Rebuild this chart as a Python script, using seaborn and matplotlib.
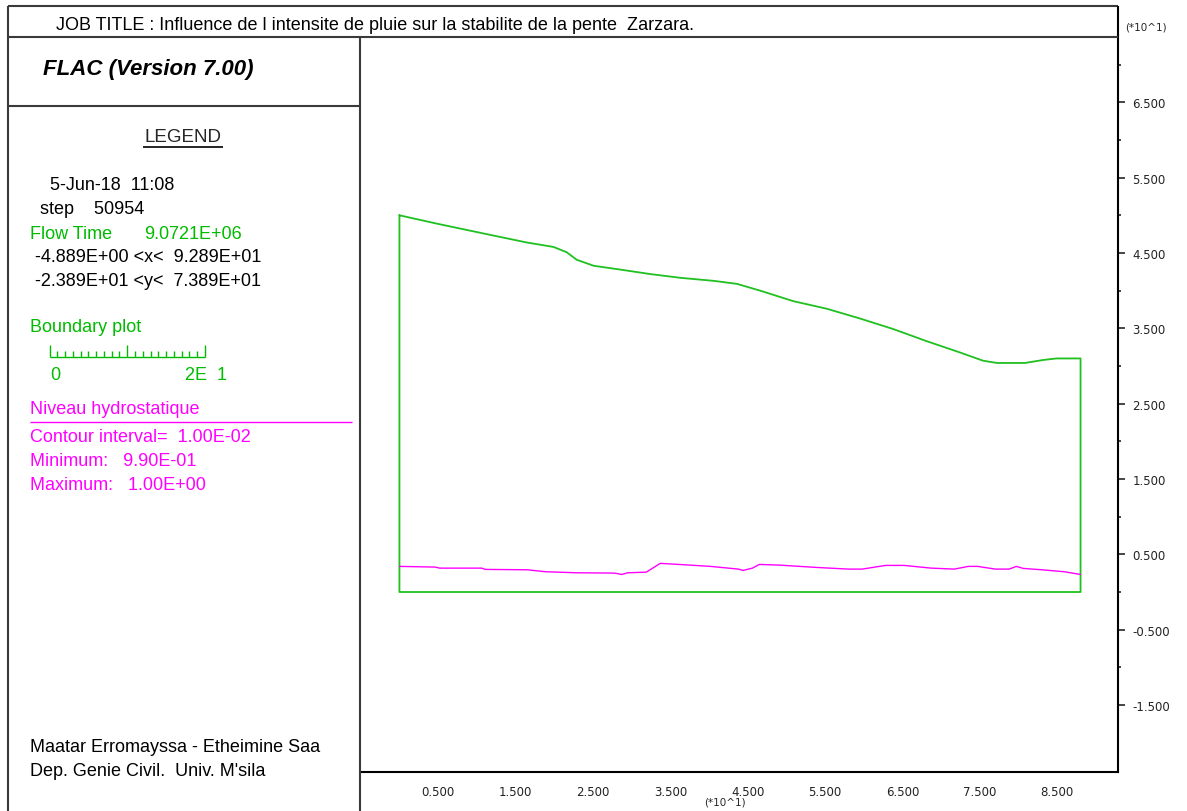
import matplotlib
matplotlib.use('Agg')
import pandas as pd
import matplotlib.pyplot as plt
import seaborn as sns
from matplotlib.lines import Line2D
from matplotlib.ticker import FixedLocator, FuncFormatter

# boundary of the slope model (m)
top_x = [0.0, 4.8, 10.8, 16.4, 19.9, 21.6, 22.9, 25.1, 28.5, 32.4, 36.3, 40.6, 43.6,
         46.6, 50.9, 55.2, 59.5, 63.8, 68.1, 72.4, 75.4, 77.2, 80.8, 83.2, 84.9, 88.0]
top_y = [50.0, 48.9, 47.6, 46.4, 45.8, 45.1, 44.1, 43.3, 42.8, 42.2, 41.7, 41.3, 40.9,
         40.0, 38.6, 37.6, 36.3, 34.9, 33.3, 31.8, 30.7, 30.4, 30.4, 30.8, 31.0, 31.0]
base_y = 0.0

# niveau hydrostatique (m)
water_x = [0.0, 4.6, 5.2, 10.6, 11.1, 16.5, 18.9, 23.0, 27.8, 28.7, 29.5, 31.9, 33.7,
           36.1, 40.2, 43.8, 44.4, 45.6, 46.5, 49.1, 53.9, 58.0, 59.8, 62.8, 65.2, 68.7,
           71.7, 73.5, 74.7, 77.0, 78.8, 79.7, 80.6, 83.0, 85.9, 88.0]
water_y = [3.40, 3.31, 3.17, 3.17, 3.00, 2.95, 2.69, 2.55, 2.51, 2.33, 2.55, 2.64, 3.80,
           3.66, 3.40, 3.04, 2.86, 3.17, 3.66, 3.57, 3.26, 3.04, 3.04, 3.53, 3.53, 3.17,
           3.04, 3.40, 3.40, 3.04, 3.04, 3.40, 3.13, 2.95, 2.69, 2.33]

x_major = [5, 15, 25, 35, 45, 55, 65, 75, 85]
x_minor = [10, 20, 30, 40, 50, 60, 70, 80, 90]
y_major = [-15, -5, 5, 15, 25, 35, 45, 55, 65]
y_minor = [-10, 0, 10, 20, 30, 40, 50, 60, 70]
x_range = (-4.889, 92.89)
y_range = (-23.89, 73.89)

GREEN = '#1fc01f'
TXT_GREEN = '#00bb00'
MAGENTA = '#ff00ff'
FRAME = '#3a3a3a'

W, H = 1187, 812

sns.set_style('white')
plt.rcParams['font.family'] = ['Liberation Sans', 'DejaVu Sans']

fig = plt.figure(figsize=(W / 100, H / 100), dpi=100)


def fx(x):
    return x / W


def fy(y):
    return 1 - y / H


def seg(x0, y0, x1, y1, color=FRAME, lw=1.5):
    fig.add_artist(Line2D([fx(x0), fx(x1)], [fy(y0), fy(y1)], transform=fig.transFigure,
                          color=color, lw=lw, solid_capstyle='butt'))


def label(x, y, s, color='black', size=13, **kw):
    fig.text(fx(x), fy(y), s, color=color, fontsize=size, va='center', ha='left', **kw)


# main plot
ax = fig.add_axes([fx(361.6), fy(773), (1118.4 - 361.6) / W, (773 - 36.3) / H])
ax.set_facecolor('none')

bnd = pd.DataFrame({'x': top_x + [top_x[-1], top_x[0], top_x[0]],
                    'y': top_y + [base_y, base_y, top_y[0]]})
water = pd.DataFrame({'x': water_x, 'y': water_y})
sns.lineplot(data=bnd, x='x', y='y', sort=False, estimator=None, color=GREEN, lw=1.3, ax=ax)
sns.lineplot(data=water, x='x', y='y', sort=False, estimator=None, color=MAGENTA, lw=1.0, ax=ax)

ax.set_xlim(*x_range)
ax.set_ylim(*y_range)
ax.set_xlabel('')
ax.set_ylabel('')
for side in ['top', 'left']:
    ax.spines[side].set_visible(False)
for side in ['bottom', 'right']:
    ax.spines[side].set_color('black')
    ax.spines[side].set_linewidth(1.5)

fmt = FuncFormatter(lambda v, p: f'{v / 10:.3f}')
ax.xaxis.set_major_locator(FixedLocator(x_major))
ax.xaxis.set_minor_locator(FixedLocator(x_minor))
ax.yaxis.set_major_locator(FixedLocator(y_major))
ax.yaxis.set_minor_locator(FixedLocator(y_minor))
ax.xaxis.set_major_formatter(fmt)
ax.yaxis.set_major_formatter(fmt)
ax.yaxis.tick_right()
ax.tick_params(axis='x', which='major', length=6.5, width=1.2, direction='out', pad=3,
               labelsize=8.5, labelcolor='#222222', labelfontfamily='DejaVu Sans')
ax.tick_params(axis='x', which='minor', length=3.6, width=1.2, direction='out')
ax.tick_params(axis='y', which='major', length=5.2, width=1.2, direction='out', pad=5,
               labelsize=8.5, labelcolor='#222222', labelfontfamily='DejaVu Sans')
ax.tick_params(axis='y', which='minor', length=2.4, width=1.2, direction='out')

fig.text(fx(1125), fy(27), '(*10^1)', fontsize=7.5, va='center', ha='left', family='DejaVu Sans')
fig.text(fx(725), fy(803), '(*10^1)', fontsize=7.5, va='center', ha='center', family='DejaVu Sans')

# frame
seg(8, 7, 1118.4, 7)
seg(8, 7, 8, 812)
seg(1118.4, 7, 1118.4, 37, color='black')
seg(8, 37.7, 1118.4, 37.7)
seg(360, 37.7, 360, 812)
seg(8, 106.7, 360, 106.7)

label(56, 25, 'JOB TITLE : Influence de l intensite de pluie sur la stabilite de la pente  Zarzara.')
label(43, 70, 'FLAC (Version 7.00)', size=16, weight='bold', style='italic')

fig.text(fx(183), fy(137), 'LEGEND', fontsize=13.5, va='center', ha='center')
seg(143, 147.7, 223, 147.7, color='black', lw=1.2)

label(50, 186, '5-Jun-18  11:08')
label(40, 210, 'step    50954')
label(30, 235, 'Flow Time', color=TXT_GREEN)
label(144, 235, '9.0721E+06', color=TXT_GREEN)
label(35, 258, '-4.889E+00 <x<  9.289E+01')
label(35, 281, '-2.389E+01 <y<  7.389E+01')

label(30, 328, 'Boundary plot', color=TXT_GREEN)
# scale bar 0 .. 20 m
bar_x0, bar_x1, bar_y = 49.5, 205, 357.7
seg(bar_x0, bar_y, bar_x1, bar_y, color=TXT_GREEN, lw=1.0)
for i in range(21):
    xx = bar_x0 + (bar_x1 - bar_x0) * i / 20
    h = 12 if i % 10 == 0 else 6
    seg(xx, bar_y, xx, bar_y - h, color=TXT_GREEN, lw=1.0)
label(50, 375, '0', color=TXT_GREEN)
label(185, 375, '2E  1', color=TXT_GREEN)

label(30, 410, 'Niveau hydrostatique', color=MAGENTA)
seg(30, 422.7, 352, 422.7, color=MAGENTA, lw=1.0)
label(30, 438, 'Contour interval=  1.00E-02', color=MAGENTA)
label(30, 462, 'Minimum:   9.90E-01', color=MAGENTA)
label(30, 486, 'Maximum:   1.00E+00', color=MAGENTA)

label(30, 748, 'Maatar Erromayssa - Etheimine Saa')
label(30, 772, "Dep. Genie Civil.  Univ. M'sila")

fig.savefig('out.png', dpi=100)
